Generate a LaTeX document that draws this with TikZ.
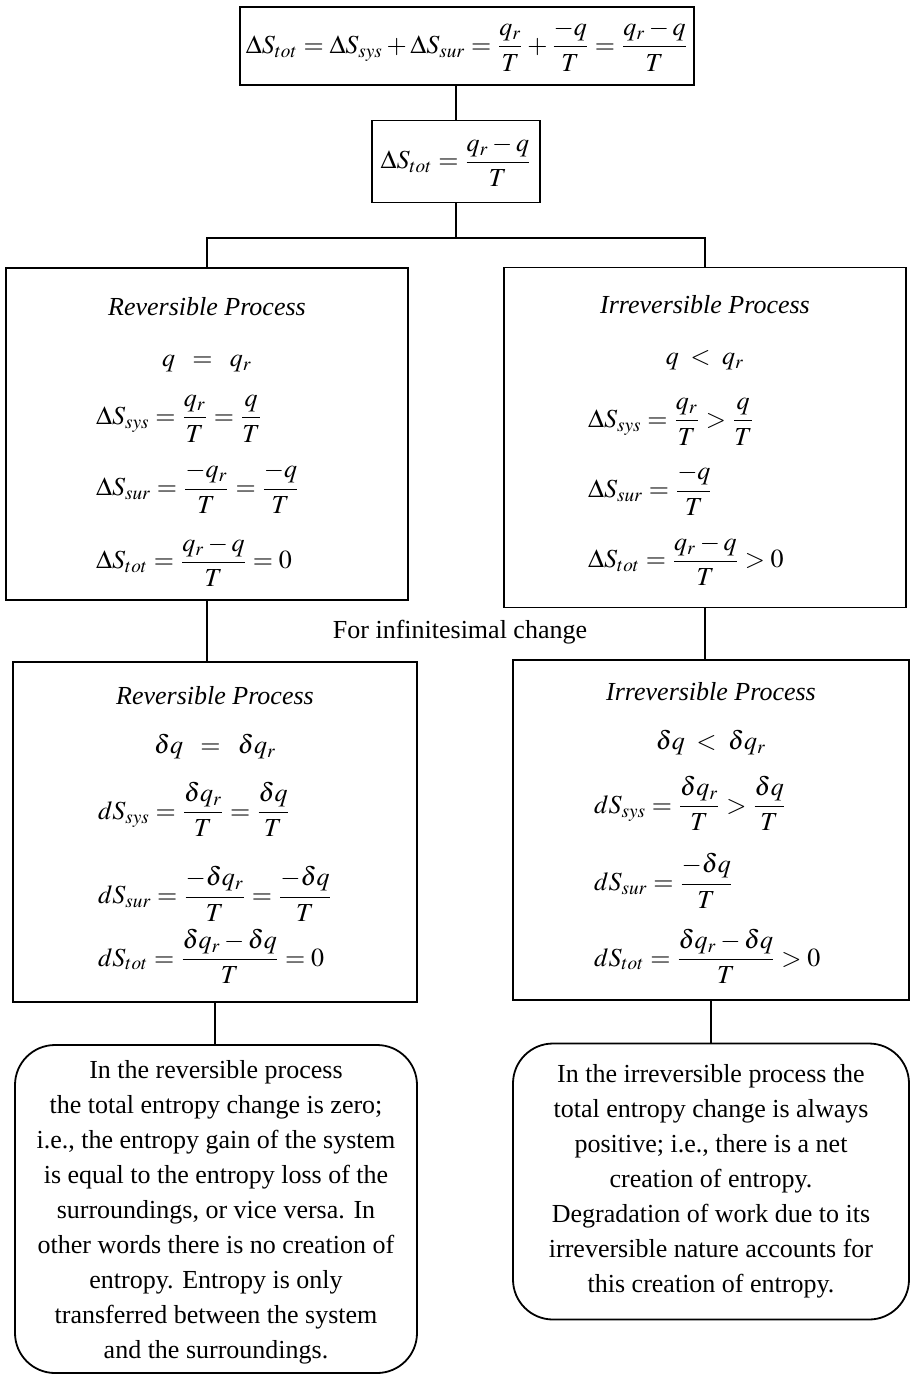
\documentclass[tikz,border=0pt]{standalone}
\usepackage{amsmath}
\usepackage{mathptmx}
\usepackage{fontspec}
\setmainfont{Liberation Serif}
\usepackage{tikz}

\newcommand{\rowc}[1]{\multicolumn{1}{c}{#1}}

\begin{document}
\begin{tikzpicture}[
    x=0.5pt, y=-0.5pt,
    font=\fontsize{13}{17.5}\selectfont,
    line width=0.9pt,
    eqbox/.style={rectangle, draw=black, inner sep=3pt, align=center},
    procbox/.style={rectangle, draw=black, minimum width=201pt, minimum height=168pt, align=center, inner sep=0pt},
    notebox/.style={rectangle, rounded corners=20pt, draw=black, minimum width=200pt, align=center, inner sep=0pt},
    link/.style={draw=black, line width=0.9pt}
]
\useasboundingbox (0,0) rectangle (912,1377);

% Nodes
\node (eqtop) [eqbox, minimum width=225pt, minimum height=39pt] at (467,46)
  {$\Delta S_{tot} = \Delta S_{sys} + \Delta S_{sur} = \dfrac{q_r}{T} + \dfrac{-q}{T} = \dfrac{q_r - q}{T}$};
\node (eqtot) [eqbox, minimum width=84pt, minimum height=41pt] at (456,161.5)
  {$\Delta S_{tot} = \dfrac{q_r - q}{T}$};

\node (revA) [procbox, minimum height=166pt] at (207,434) {%
  \raisebox{-2.5pt}[\height][\depth]{%
  \begin{tabular}{@{}l@{}}
  \rowc{\textit{Reversible Process}}\\[8pt]
  \rowc{$q \;\;=\;\; q_r$}\\[9pt]
  $\Delta S_{sys} = \dfrac{q_r}{T} = \dfrac{q}{T}$\\[14pt]
  $\Delta S_{sur} = \dfrac{-q_r}{T} = \dfrac{-q}{T}$\\[15pt]
  $\Delta S_{tot} = \dfrac{q_r - q}{T} = 0$
  \end{tabular}}};
\node (irrA) [procbox, minimum height=170pt] at (705,437.5) {%
  \begin{tabular}{@{}l@{}}
  \rowc{\textit{Irreversible Process}}\\[8pt]
  \rowc{$q \;<\; q_r$}\\[11.5pt]
  $\Delta S_{sys} = \dfrac{q_r}{T} > \dfrac{q}{T}$\\[13.5pt]
  $\Delta S_{sur} = \dfrac{-q}{T}$\\[13.5pt]
  $\Delta S_{tot} = \dfrac{q_r - q}{T} > 0$
  \end{tabular}};

\node (change) at (460,632) {For infinitesimal change};

\node (revB) [procbox, minimum width=202pt, minimum height=170pt] at (215,832) {%
  \begin{tabular}{@{}l@{}}
  \rowc{\textit{Reversible Process}}\\[7pt]
  \rowc{$\delta q \;\;=\;\; \delta q_r$}\\[9pt]
  $dS_{sys} = \dfrac{\delta q_r}{T} = \dfrac{\delta q}{T}$\\[18.5pt]
  $dS_{sur} = \dfrac{-\delta q_r}{T} = \dfrac{-\delta q}{T}$\\[7.5pt]
  $dS_{tot} = \dfrac{\delta q_r - \delta q}{T} = 0$
  \end{tabular}};
\node (irrB) [procbox, minimum width=198pt, minimum height=170pt] at (711,830) {%
  \begin{tabular}{@{}l@{}}
  \rowc{\textit{Irreversible Process}}\\[7pt]
  \rowc{$\delta q \;<\; \delta q_r$}\\[8pt]
  $dS_{sys} = \dfrac{\delta q_r}{T} > \dfrac{\delta q}{T}$\\[15pt]
  $dS_{sur} = \dfrac{-\delta q}{T}$\\[14pt]
  $dS_{tot} = \dfrac{\delta q_r - \delta q}{T} > 0$
  \end{tabular}};

\node (revN) [notebox, minimum width=201pt, minimum height=164pt, text depth=-3pt] at (216,1209) {%
  In the reversible process\\
  the total entropy change is zero;\\
  i.e., the entropy gain of the system\\
  is equal to the entropy loss of the\\
  surroundings, or vice versa. In\\
  other words there is no creation of\\
  entropy. Entropy is only\\
  transferred between the system\\
  and the surroundings.};
\node (irrN) [notebox, minimum width=198pt, minimum height=138pt] at (711,1181.5) {%
  In the irreversible process the\\
  total entropy change is always\\
  positive; i.e., there is a net\\
  creation of entropy.\\
  Degradation of work due to its\\
  irreversible nature accounts for\\
  this creation of entropy.};

\coordinate (split) at (456,238);

% Paths
\draw [link] (eqtot.north) -- (eqtot.north |- eqtop.south);
\draw [link] (eqtot.south) -- (split);
\draw [link] (revA.north) |- (split) -| (irrA.north);
\draw [link] (revA.south) -- (revA.south |- revB.north);
\draw [link] (irrA.south) -- (irrA.south |- irrB.north);
\draw [link] (revB.south) -- (revB.south |- revN.north);
\draw [link] (irrB.south) -- (irrB.south |- irrN.north);

\end{tikzpicture}
\end{document}
